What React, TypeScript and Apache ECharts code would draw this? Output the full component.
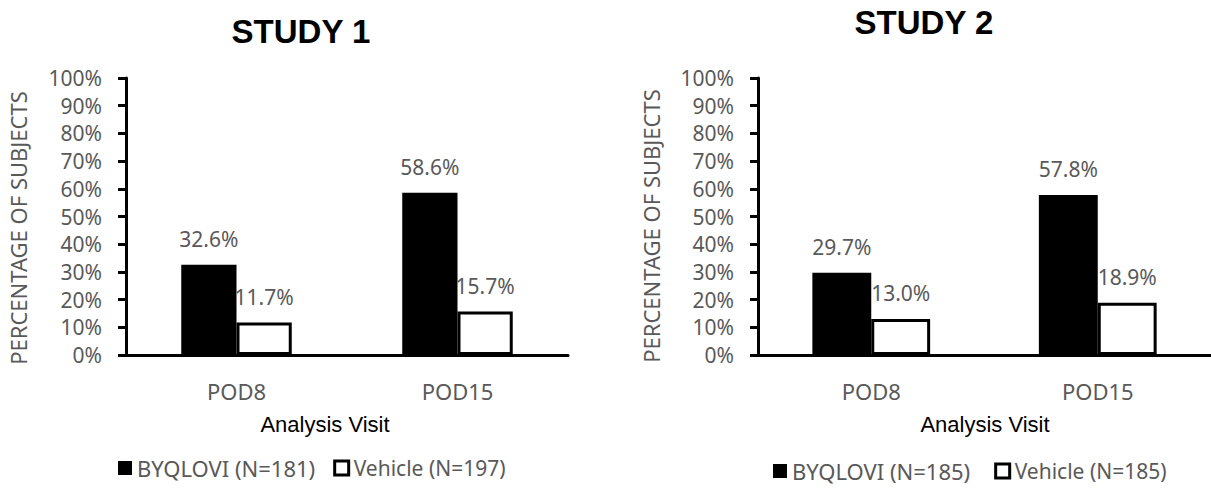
import React, { useEffect, useRef } from "react";
import * as echarts from "echarts";

const categories = ["POD8", "POD15"];
const study1Byqlovi = [32.6, 58.6];
const study1Vehicle = [11.7, 15.7];
const study2Byqlovi = [29.7, 57.8];
const study2Vehicle = [13.0, 18.9];
const study1Names = ["BYQLOVI (N=181)", "Vehicle (N=197)"];
const study2Names = ["BYQLOVI (N=185)", "Vehicle (N=185)"];
const titles = ["STUDY 1", "STUDY 2"];
const yAxisTitle = "PERCENTAGE OF SUBJECTS";
const xAxisTitle = "Analysis Visit";
const yMin = 0;
const yMax = 100;
const yStep = 10;

const FONT = "'Noto Sans', sans-serif";
const GREY = "#595959";

export default function App() {
  const ref = useRef<HTMLDivElement>(null);
  useEffect(() => {
    if (!ref.current) return;
    const chart = echarts.init(ref.current, null, { renderer: "svg" });

    const mkX = (gridIndex: number) => ({
      type: "category",
      gridIndex,
      data: categories,
      axisLine: { show: true, lineStyle: { color: "#000", width: 3 } },
      axisTick: { show: false },
      axisLabel: { color: GREY, fontSize: 22, fontFamily: FONT, margin: 25 },
    });
    const mkY = (gridIndex: number) => ({
      type: "value",
      gridIndex,
      min: yMin,
      max: yMax,
      interval: yStep,
      splitLine: { show: false },
      axisLine: { show: true, lineStyle: { color: "#000", width: 3 } },
      axisTick: { show: true, inside: false, length: 8, lineStyle: { color: "#000", width: 3 } },
      axisLabel: {
        color: GREY,
        fontSize: 21,
        fontFamily: FONT,
        margin: 24,
        formatter: (v: number) => `${v}%`,
      },
    });
    const label = {
      show: true,
      position: "top",
      distance: 15,
      color: GREY,
      fontSize: 21,
      fontFamily: FONT,
      formatter: (p: any) => `${Number(p.value).toFixed(1)}%`,
    };
    const blackStyle = { color: "#000", borderColor: "#000", borderWidth: 0 };
    const whiteStyle = { color: "#fff", borderColor: "#000", borderWidth: 3 };

    const textEl = (text: string, x: number, y: number, font: any, rotation = 0) => ({
      type: "text",
      x,
      y,
      rotation,
      style: {
        text,
        x: 0,
        y: 0,
        align: "center",
        verticalAlign: "middle",
        ...font,
      },
    });
    const titleFont = { fontSize: 33, fontWeight: "bold", fontFamily: "'Liberation Sans', Arial, sans-serif", fill: "#000" };
    const axisTitleFont = { fontSize: 22, fontFamily: "'Liberation Sans', Arial, sans-serif", fill: "#000" };
    const yTitleFont = { fontSize: 22, fontFamily: FONT, fill: GREY };

    const legendData = (names: string[]) => [
      { name: names[0], itemStyle: { color: "#000", borderWidth: 0 }, textStyle: { fontSize: 22 } },
      { name: names[1], itemStyle: { color: "#fff", borderColor: "#000", borderWidth: 3 }, textStyle: { fontSize: 21 } },
    ];
    const legendBase = {
      padding: 0,
      icon: "rect",
      itemWidth: 14,
      itemHeight: 14,
      textStyle: { color: GREY, fontSize: 22, fontFamily: FONT },
    };

    chart.setOption({
      animation: false,
      backgroundColor: "#fff",
      grid: [
        { left: 126, right: 643, top: 78, bottom: 137, containLabel: false },
        { left: 758, right: -6, top: 78, bottom: 137, containLabel: false },
      ],
      xAxis: [mkX(0), mkX(1)],
      yAxis: [mkY(0), mkY(1)],
      legend: [
        { ...legendBase, data: legendData(study1Names), left: 118, top: 457, itemGap: 18 },
        { ...legendBase, data: legendData(study2Names), left: 773, top: 460, itemGap: 24 },
      ],
      series: [
        { type: "bar", name: study1Names[0], xAxisIndex: 0, yAxisIndex: 0, data: study1Byqlovi, barWidth: "25%", barGap: "0%", itemStyle: blackStyle, label },
        { type: "bar", name: study1Names[1], xAxisIndex: 0, yAxisIndex: 0, data: study1Vehicle, barWidth: "25%", barGap: "0%", itemStyle: whiteStyle, label },
        { type: "bar", name: study2Names[0], xAxisIndex: 1, yAxisIndex: 1, data: study2Byqlovi, barWidth: "26%", barGap: "0%", itemStyle: blackStyle, label },
        { type: "bar", name: study2Names[1], xAxisIndex: 1, yAxisIndex: 1, data: study2Vehicle, barWidth: "26%", barGap: "0%", itemStyle: whiteStyle, label },
      ],
      graphic: [
        textEl(titles[0], 301, 31, titleFont),
        textEl(titles[1], 924, 22, titleFont),
        textEl(xAxisTitle, 325, 424, axisTitleFont),
        textEl(xAxisTitle, 985, 424, axisTitleFont),
        textEl(yAxisTitle, 18, 228, yTitleFont, Math.PI / 2),
        textEl(yAxisTitle, 651, 226, yTitleFont, Math.PI / 2),
      ],
    });
    return () => chart.dispose();
  }, []);
  return (
    <div
      ref={ref}
      style={{ position: "fixed", left: 0, top: 0, width: 1211, height: 492, background: "#fff" }}
    />
  );
}
